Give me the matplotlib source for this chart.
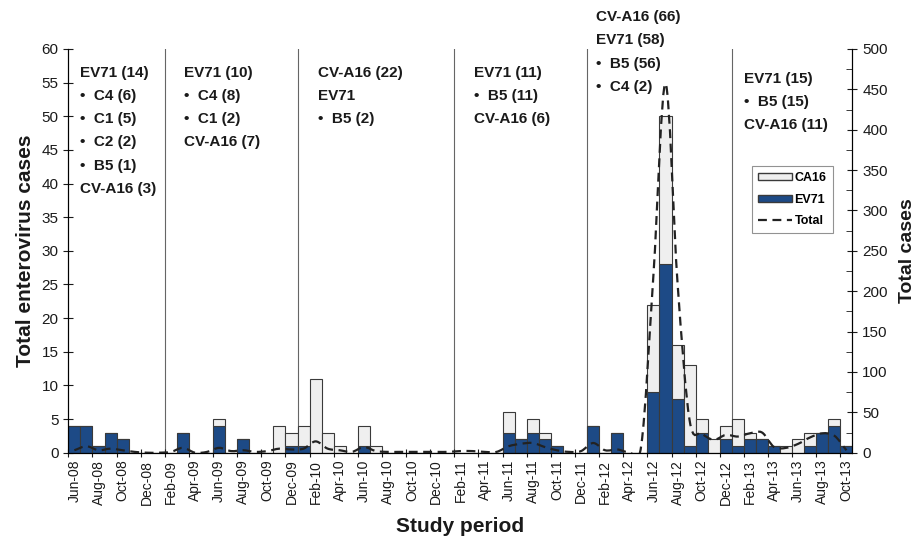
import numpy as np
import pandas as pd
import matplotlib as mpl
import matplotlib.pyplot as plt
from matplotlib.path import Path
from matplotlib.patches import PathPatch, Patch
from matplotlib.lines import Line2D

mpl.rc('font', family=['Liberation Sans', 'DejaVu Sans'])

#%% data (monthly, Jun-08 .. Oct-13)
months = list(pd.date_range('2008-06-01', periods=65, freq='MS').strftime('%b-%y'))

ev71 = [4, 4, 1, 3, 2, 0, 0,
        0, 0, 3, 0, 0, 4, 0, 2, 0, 0, 0, 1,
        1, 0, 0, 0, 0, 1, 0, 0, 0, 0, 0, 0,
        0, 0, 0, 0, 0, 3, 2, 3, 2, 1, 0, 0,
        4, 0, 3, 0, 0, 9, 28, 8, 1, 3, 0, 2,
        1, 2, 2, 1, 0, 0, 1, 3, 4, 1]

ca16 = [0, 0, 0, 0, 0, 0, 0,
        0, 0, 0, 0, 0, 1, 0, 0, 0, 0, 4, 2,
        3, 11, 3, 1, 0, 3, 1, 0, 0, 0, 0, 0,
        0, 0, 0, 0, 0, 3, 0, 2, 1, 0, 0, 0,
        0, 0, 0, 0, 0, 13, 22, 8, 12, 2, 2, 2,
        4, 1, 0, 0, 1, 2, 2, 0, 1, 0]

# total cases (right axis)
total = [3, 8, 3, 5, 3, 1, 0,
         0, 1, 6, 0, 1, 6, 2, 3, 1, 2, 5, 4,
         5, 14, 5, 3, 1, 7, 2, 1, 1, 1, 1, 1,
         1, 2, 2, 1, 1, 8, 11, 12, 7, 3, 1, 2,
         12, 3, 4, 1, 10, 220, 457, 210, 40, 24, 16, 22,
         20, 24, 25, 7, 6, 11, 19, 24, 21, 3]

# period boundaries (month index)
period_edges = [8, 19, 32, 43, 55]

period_notes = [
    ['EV71 (14)', '•  C4 (6)', '•  C1 (5)', '•  C2 (2)', '•  B5 (1)', 'CV-A16 (3)'],
    ['EV71 (10)', '•  C4 (8)', '•  C1 (2)', 'CV-A16 (7)'],
    ['CV-A16 (22)', 'EV71', '•  B5 (2)'],
    ['EV71 (11)', '•  B5 (11)', 'CV-A16 (6)'],
    ['CV-A16 (66)', 'EV71 (58)', '•  B5 (56)', '•  C4 (2)'],
    ['EV71 (15)', '•  B5 (15)', 'CV-A16 (11)'],
]
note_pos = [(0.97, 56.4), (9.6, 56.4), (20.7, 56.4), (33.6, 56.4), (43.76, 64.7), (56.0, 55.5)]

#%% plot
blue = '#1d4a86'
light = '#efefef'
edge = '#3a3a3a'
txt = '#1a1a1a'

fig = plt.figure(figsize=(9.22, 5.37), dpi=100)
ax = fig.add_axes([0.0741, 0.157, 0.8505, 0.7518])

x = np.arange(len(months))
ax.bar(x, ev71, width=1, align='edge', color=blue, edgecolor=edge, lw=0.8, zorder=2)
ax.bar(x, ca16, bottom=ev71, width=1, align='edge', color=light, edgecolor=edge, lw=0.8, zorder=2)

for e in period_edges:
    ax.axvline(e, color='#666666', lw=0.8, zorder=0)

ax.set_xlim(0, len(months))
ax.set_ylim(0, 60)
ax.set_yticks(range(0, 61, 5))
ax.tick_params(axis='y', direction='inout', length=7, labelsize=11, colors=txt)

ax.set_xticks(np.arange(0, len(months), 2))
ax.set_xticklabels([])
ax.set_xticks(np.arange(0, len(months), 2) + 0.5, minor=True)
ax.set_xticklabels(months[::2], minor=True, rotation=90)
ax.tick_params(axis='x', which='major', direction='inout', length=6, colors=txt)
ax.tick_params(axis='x', which='minor', length=0, labelsize=10, pad=5, colors=txt)

ax.spines['top'].set_visible(False)
ax.set_ylabel('Total enterovirus cases', fontsize=15, fontweight='bold', color=txt, labelpad=5)
ax.set_xlabel('Study period', fontsize=15, fontweight='bold', color=txt, labelpad=9)

# right axis: total, smoothed line drawn as bezier path
ax2 = ax.twinx()
ax2.set_ylim(0, 500)
ax2.set_yticks(range(0, 501, 50))
ax2.set_yticks(range(25, 500, 50), minor=True)
ax2.tick_params(axis='y', which='major', direction='inout', length=7, labelsize=11, colors=txt)
ax2.tick_params(axis='y', which='minor', direction='in', length=4, colors=txt)
ax2.spines['top'].set_visible(False)
ax2.set_ylabel('Total cases', fontsize=14, fontweight='bold', color=txt, labelpad=8)

xc = x + 0.5
yt = np.array(total, dtype=float)
n = len(yt)
m = np.zeros(n)
m[1:-1] = (yt[2:] - yt[:-2]) / 2
m[0] = yt[1] - yt[0]
m[-1] = yt[-1] - yt[-2]
verts = [(xc[0], yt[0])]
codes = [Path.MOVETO]
for i in range(n - 1):
    verts += [(xc[i] + 1/3, yt[i] + m[i]/3),
              (xc[i+1] - 1/3, yt[i+1] - m[i+1]/3),
              (xc[i+1], yt[i+1])]
    codes += [Path.CURVE4] * 3
dash = (0, (4, 2.5))
ax2.add_patch(PathPatch(Path(verts, codes), facecolor='none', edgecolor='#222222',
                        lw=1.6, linestyle=dash, zorder=3))

handles = [Patch(facecolor=light, edgecolor=edge, label='CA16'),
           Patch(facecolor=blue, edgecolor=edge, label='EV71'),
           Line2D([], [], color='#222222', lw=1.6, ls=dash, label='Total')]
leg = ax2.legend(handles=handles, loc='upper left', bbox_to_anchor=(0.872, 0.71),
                 prop={'weight': 'bold', 'size': 9}, frameon=True, fancybox=False,
                 edgecolor='#777777', handlelength=2.7, handleheight=0.5,
                 handletextpad=0.2, labelspacing=0.75, borderpad=0.5, borderaxespad=0)
leg.get_frame().set_linewidth(0.8)

step = 3.43
for (px, py), lines in zip(note_pos, period_notes):
    for k, s in enumerate(lines):
        ax.text(px, py - k*step, s, fontsize=11, fontweight='bold', color=txt,
                ha='left', va='center', clip_on=False, zorder=5)

fig.savefig('out.png', dpi=100)
